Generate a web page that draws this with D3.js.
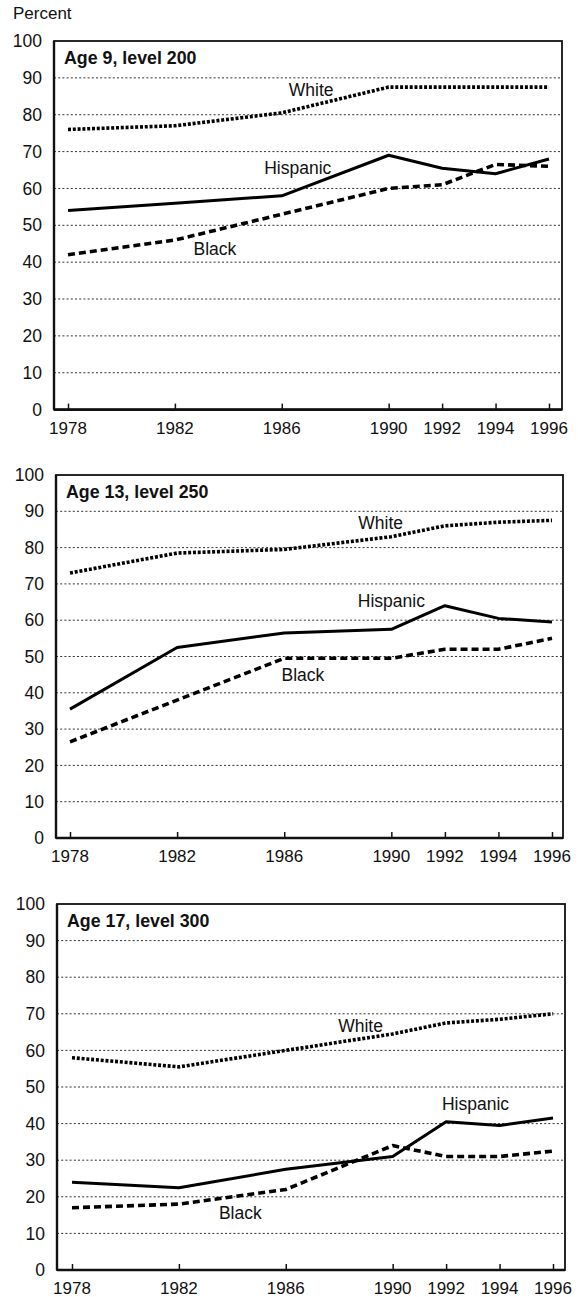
<!DOCTYPE html>
<html>
<head>
<meta charset="utf-8">
<script src="https://cdn.jsdelivr.net/npm/d3@7"></script>
<style>
  html, body { margin: 0; padding: 0; background: #fff; }
  svg { display: block; }
  text { font-family: "Liberation Sans", Arial, Helvetica, sans-serif; fill: #111; }
</style>
</head>
<body>
<svg id="chart" width="578" height="1297"></svg>
<script>
// ---------- data ----------
const years = [1978, 1982, 1986, 1990, 1992, 1994, 1996];
const yTicks = [0, 10, 20, 30, 40, 50, 60, 70, 80, 90, 100];
const panelTitles = ["Age 9, level 200", "Age 13, level 250", "Age 17, level 300"];
const seriesNames = ["White", "Hispanic", "Black"];

const white9    = [76, 77, 80.5, 87.5, 87.5, 87.5, 87.5];
const hispanic9 = [54, 56, 58, 69, 65.5, 64, 68];
const black9    = [42, 46, 53, 60, 61, 66.5, 66];

const white13    = [73, 78.5, 79.5, 83, 86, 87, 87.5];
const hispanic13 = [35.5, 52.5, 56.5, 57.5, 64, 60.5, 59.5];
const black13    = [26.5, 38, 49.5, 49.5, 52, 52, 55];

const white17    = [58, 55.5, 60, 64.5, 67.5, 68.5, 70];
const hispanic17 = [24, 22.5, 27.5, 31, 40.5, 39.5, 41.5];
const black17    = [17, 18, 22, 34, 31, 31, 32.5];

// label anchors (year, value) for the series names
const labels9  = [[1987.1, 85], [1986.6, 63.8], [1983.5, 42]];
const labels13 = [[1989.6, 85], [1990.0, 63.5], [1986.7, 43.2]];
const labels17 = [[1988.8, 65], [1993.1, 43.8], [1984.3, 13.8]];

const panelData = [
  { title: panelTitles[0], series: [white9, hispanic9, black9], labels: labels9 },
  { title: panelTitles[1], series: [white13, hispanic13, black13], labels: labels13 },
  { title: panelTitles[2], series: [white17, hispanic17, black17], labels: labels17 }
];

// ---------- layout ----------
const layouts = [
  { left: 54, right: 562, top: 41,  bottom: 409.6, x0: 68, x1: 549 },
  { left: 56, right: 563, top: 475, bottom: 838,   x0: 70, x1: 552 },
  { left: 57, right: 565, top: 904, bottom: 1270,  x0: 72, x1: 553 }
];
const styles = [
  { width: 3.6, dash: "3,1.8" },   // White: dotted
  { width: 3.0, dash: null },      // Hispanic: solid
  { width: 3.6, dash: "7,4" }      // Black: dashed
];

const svg = d3.select("#chart");

svg.append("text")
  .attr("x", 13).attr("y", 19)
  .attr("font-size", 17)
  .text("Percent");

panelData.forEach((p, i) => {
  const L = layouts[i];
  const x = d3.scaleLinear().domain([1978, 1996]).range([L.x0, L.x1]);
  const y = d3.scaleLinear().domain([0, 100]).range([L.bottom, L.top]);
  const g = svg.append("g");

  // grid lines
  g.selectAll(".grid").data(yTicks.filter(t => t > 0 && t < 100)).join("line")
    .attr("x1", L.left).attr("x2", L.right)
    .attr("y1", d => y(d)).attr("y2", d => y(d))
    .attr("stroke", "#333").attr("stroke-width", 1)
    .attr("stroke-dasharray", "2,2.2");

  // y axis labels
  const yAxis = d3.axisLeft(y).tickValues(yTicks).tickSize(0).tickPadding(12);
  const ya = g.append("g").attr("transform", `translate(${L.left},0)`).call(yAxis);
  ya.select(".domain").remove();
  ya.selectAll("text").attr("font-size", 17.5).attr("fill", "#111")
    .attr("font-family", '"Liberation Sans", Arial, sans-serif');

  // x axis with inward ticks
  const xAxis = d3.axisTop(x).tickValues(years).tickSize(6).tickFormat("");
  const xa = g.append("g").attr("transform", `translate(0,${L.bottom})`).call(xAxis);
  xa.select(".domain").remove();
  xa.selectAll("line").attr("stroke", "#111").attr("stroke-width", 1.5);

  g.selectAll(".xl").data(years).join("text")
    .attr("x", d => x(d)).attr("y", L.bottom + 24)
    .attr("text-anchor", "middle").attr("font-size", 17)
    .text(d => d);

  // frame
  g.append("rect")
    .attr("x", L.left).attr("y", L.top)
    .attr("width", L.right - L.left).attr("height", L.bottom - L.top)
    .attr("fill", "none").attr("stroke", "#111").attr("stroke-width", 1.8);
  g.append("line")
    .attr("x1", L.left).attr("x2", L.right)
    .attr("y1", L.bottom).attr("y2", L.bottom)
    .attr("stroke", "#111").attr("stroke-width", 2.6);
  g.append("line")
    .attr("x1", L.left).attr("x2", L.left)
    .attr("y1", L.top).attr("y2", L.bottom)
    .attr("stroke", "#111").attr("stroke-width", 2.4);

  // title
  g.append("text")
    .attr("x", L.left + 10).attr("y", L.top + 23)
    .attr("font-size", 17.8).attr("font-weight", "bold")
    .text(p.title);

  // series lines
  const line = d3.line().x((d, k) => x(years[k])).y(d => y(d));
  p.series.forEach((vals, s) => {
    g.append("path")
      .datum(vals)
      .attr("d", line)
      .attr("fill", "none")
      .attr("stroke", "#000")
      .attr("stroke-width", styles[s].width)
      .attr("stroke-dasharray", styles[s].dash)
      .attr("stroke-linejoin", "round");
  });

  // series labels
  p.labels.forEach((lab, s) => {
    g.append("text")
      .attr("x", x(lab[0])).attr("y", y(lab[1]))
      .attr("text-anchor", "middle").attr("font-size", 17.5)
      .text(seriesNames[s]);
  });
});
</script>
</body>
</html>
